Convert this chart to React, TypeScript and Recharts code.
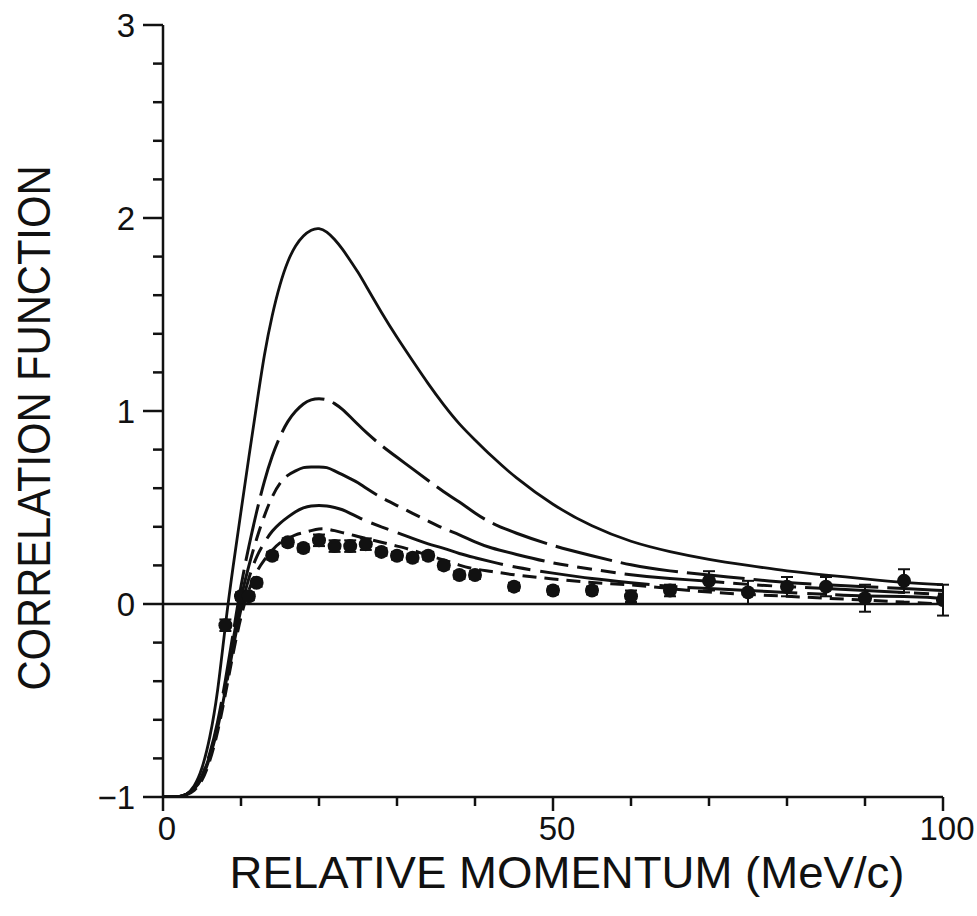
import {
  ComposedChart,
  ErrorBar,
  Label,
  Line,
  ReferenceLine,
  Scatter,
  XAxis,
  YAxis,
} from "recharts";

// momentum grid (MeV/c) for the model curves
const curveX = [
  0, 1, 2, 3, 4, 5, 6, 7, 8, 9, 10, 11, 12, 13, 14, 15, 16, 17, 18, 19, 20,
  21, 22, 23, 24, 25, 26, 28, 30, 32, 34, 36, 38, 40, 42, 45, 50, 55, 60, 65,
  70, 75, 80, 85, 90, 95, 100,
];

const solidY = [
  -1, -1, -1, -0.99, -0.95, -0.86, -0.7, -0.47, -0.1, 0.2, 0.48, 0.76, 1.03,
  1.3, 1.5, 1.66, 1.78, 1.86, 1.91, 1.94, 1.95, 1.93, 1.89, 1.84, 1.78, 1.72,
  1.65, 1.51, 1.38, 1.26, 1.14, 1.03, 0.93, 0.85, 0.77, 0.66, 0.51, 0.4, 0.32,
  0.27, 0.23, 0.2, 0.17, 0.15, 0.13, 0.11, 0.1,
];
const longDashY = [
  -1, -1, -1, -0.99, -0.96, -0.9, -0.78, -0.62, -0.4, -0.15, 0.1, 0.3, 0.48,
  0.64, 0.77, 0.87, 0.95, 1.0, 1.04, 1.06, 1.065, 1.06, 1.04, 1.01, 0.97, 0.93,
  0.89, 0.82, 0.76, 0.7, 0.64, 0.58, 0.53, 0.47, 0.42, 0.37, 0.3, 0.25, 0.2,
  0.17, 0.15, 0.13, 0.11, 0.1, 0.09, 0.08, 0.07,
];
const midDashY = [
  -1, -1, -1, -0.99, -0.96, -0.9, -0.79, -0.64, -0.43, -0.18, 0.04, 0.2, 0.34,
  0.46, 0.56, 0.63, 0.67, 0.69, 0.71, 0.71, 0.71, 0.71, 0.69, 0.67, 0.65, 0.63,
  0.6, 0.55, 0.51, 0.47, 0.43, 0.39, 0.36, 0.32, 0.29, 0.26, 0.21, 0.18, 0.15,
  0.13, 0.12, 0.1, 0.09, 0.08, 0.07, 0.06, 0.05,
];
const longShortY = [
  -1, -1, -1, -0.99, -0.96, -0.91, -0.8, -0.65, -0.45, -0.22, -0.02, 0.14,
  0.25, 0.32, 0.38, 0.42, 0.45, 0.48, 0.5, 0.51, 0.51, 0.51, 0.5, 0.49, 0.47,
  0.45, 0.43, 0.4, 0.37, 0.34, 0.31, 0.29, 0.26, 0.24, 0.22, 0.19, 0.16, 0.13,
  0.11, 0.09, 0.08, 0.07, 0.06, 0.05, 0.04, 0.04, 0.03,
];
const shortDashY = [
  -1, -1, -1, -0.99, -0.97, -0.92, -0.82, -0.67, -0.47, -0.25, -0.06, 0.08,
  0.17, 0.23, 0.28, 0.32, 0.34, 0.36, 0.37, 0.38, 0.39, 0.39, 0.38, 0.37, 0.36,
  0.35, 0.34, 0.32, 0.3, 0.28, 0.25, 0.23, 0.2, 0.18, 0.17, 0.15, 0.13, 0.11,
  0.1, 0.08, 0.06, 0.05, 0.04, 0.03, 0.02, 0.01, 0,
];

// measured points
const dataX = [
  8, 10, 11, 12, 14, 16, 18, 20, 22, 24, 26, 28, 30, 32, 34, 36, 38, 40, 45,
  50, 55, 60, 65, 70, 75, 80, 85, 90, 95, 100,
];
const dataY = [
  -0.11, 0.04, 0.04, 0.11, 0.25, 0.32, 0.29, 0.33, 0.3, 0.3, 0.31, 0.27, 0.25,
  0.24, 0.25, 0.2, 0.15, 0.15, 0.09, 0.07, 0.07, 0.04, 0.07, 0.12, 0.06, 0.09,
  0.09, 0.03, 0.12, 0.02,
];
const dataErr = [
  0.03, 0.02, 0.02, 0.02, 0.02, 0.02, 0.02, 0.03, 0.03, 0.03, 0.03, 0.02, 0.02,
  0.02, 0.02, 0.02, 0.02, 0.02, 0.02, 0.02, 0.02, 0.03, 0.03, 0.05, 0.06, 0.05,
  0.05, 0.07, 0.06, 0.08,
];

const xTicks = [0, 10, 20, 30, 40, 50, 60, 70, 80, 90, 100];
const xLabels = [0, 50, 100];
const yTicks = [
  -1, -0.8, -0.6, -0.4, -0.2, 0, 0.2, 0.4, 0.6, 0.8, 1, 1.2, 1.4, 1.6, 1.8, 2,
  2.2, 2.4, 2.6, 2.8, 3,
];

const toPoints = (ys: number[]) => curveX.map((x, i) => ({ x, y: ys[i] }));
const points = dataX.map((x, i) => ({ x, y: dataY[i], err: dataErr[i] }));

const FONT = "'Liberation Sans', Arial, sans-serif";
const INK = "#111";

function XTick({ x, y, payload }: any) {
  const v = payload.value;
  const major = xLabels.includes(v);
  return (
    <g>
      <line x1={x} x2={x} y1={y} y2={y + (major ? 14 : 9)} stroke={INK} strokeWidth={2.5} />
      {major && (
        <text x={x + 4} y={y + 43} textAnchor="middle" fontSize={33} fontFamily={FONT} fill={INK}>
          {v}
        </text>
      )}
    </g>
  );
}

function YTick({ x, y, payload }: any) {
  const v = payload.value;
  const major = Math.abs(v - Math.round(v)) < 1e-6;
  return (
    <g>
      <line x1={x - (major ? 20 : 10)} x2={x} y1={y} y2={y} stroke={INK} strokeWidth={2.5} />
      {major && (
        <text x={x - 28} y={y + 12} textAnchor="end" fontSize={33} fontFamily={FONT} fill={INK}>
          {Math.round(v) < 0 ? "\u2212" + Math.abs(Math.round(v)) : Math.round(v)}
        </text>
      )}
    </g>
  );
}

const Dot = ({ cx, cy }: any) => <circle cx={cx} cy={cy} r={7} fill={INK} />;

export default function App() {
  return (
    <div style={{ position: "absolute", left: 0, top: 0, width: 977, height: 916, background: "#fff" }}>
      <ComposedChart
        width={977}
        height={916}
        margin={{ top: 25, right: 34, left: 103, bottom: 60 }}
      >
        <XAxis
          dataKey="x"
          type="number"
          domain={[0, 100]}
          ticks={xTicks}
          tick={<XTick />}
          tickLine={false}
          tickSize={0}
          tickMargin={0}
          height={59}
          axisLine={{ stroke: INK, strokeWidth: 2.5 }}
          allowDataOverflow
        >
          <Label
            content={() => (
              <text
                x={567}
                y={888}
                textAnchor="middle"
                fontSize={44}
                fontFamily={FONT}
                fill={INK}
                textLength={675}
                lengthAdjust="spacingAndGlyphs"
              >
                RELATIVE MOMENTUM (MeV/c)
              </text>
            )}
          />
        </XAxis>
        <YAxis
          dataKey="y"
          type="number"
          domain={[-1, 3]}
          ticks={yTicks}
          tick={<YTick />}
          tickLine={false}
          tickSize={0}
          tickMargin={0}
          width={60}
          axisLine={{ stroke: INK, strokeWidth: 2.5 }}
          allowDataOverflow
        >
          <Label
            content={() => (
              <text
                x={50}
                y={428}
                transform="rotate(-90 50 428)"
                textAnchor="middle"
                fontSize={46}
                fontFamily={FONT}
                fill={INK}
                textLength={525}
                lengthAdjust="spacingAndGlyphs"
              >
                CORRELATION FUNCTION
              </text>
            )}
          />
        </YAxis>
        <ReferenceLine y={0} stroke={INK} strokeWidth={2.5} />
        <Line data={toPoints(solidY)} dataKey="y" type="basis" stroke={INK} strokeWidth={2.8} dot={false} isAnimationActive={false} />
        <Line data={toPoints(longDashY)} dataKey="y" type="basis" stroke={INK} strokeWidth={3} strokeDasharray="58 9" dot={false} isAnimationActive={false} />
        <Line data={toPoints(midDashY)} dataKey="y" type="basis" stroke={INK} strokeWidth={3} strokeDasharray="100 9 15 9 15 9 15 9" dot={false} isAnimationActive={false} />
        <Line data={toPoints(longShortY)} dataKey="y" type="basis" stroke={INK} strokeWidth={3} strokeDasharray="110 10 18 10" dot={false} isAnimationActive={false} />
        <Line data={toPoints(shortDashY)} dataKey="y" type="basis" stroke={INK} strokeWidth={3} strokeDasharray="14 8" dot={false} isAnimationActive={false} />
        <Scatter data={points} dataKey="y" shape={<Dot />} isAnimationActive={false}>
          <ErrorBar dataKey="err" direction="y" width={6} stroke={INK} strokeWidth={2} />
        </Scatter>
      </ComposedChart>
    </div>
  );
}
